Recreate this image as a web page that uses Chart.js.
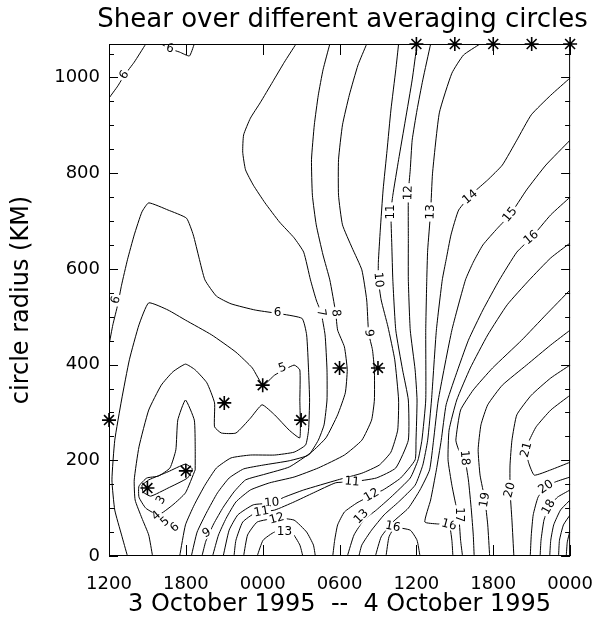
<!DOCTYPE html>
<html><head><meta charset="utf-8">
<script src="https://cdn.jsdelivr.net/npm/chart.js@4.4.1/dist/chart.umd.min.js"></script>
<style>html,body{margin:0;padding:0;background:#fff}</style>
</head><body>
<div style="width:611px;height:617px;position:relative"><canvas id="c"></canvas></div>
<script>
// text
const chartTitle = 'Shear over different averaging circles';
// axes
const xTickValues = [0, 6, 12, 18, 24, 30, 36];
const xTickLabels = ['1200', '1800', '0000', '0600', '1200', '1800', '0000'];
const yTickValues = [0, 200, 400, 600, 800, 1000];
const yMinorValues = [50,100,150,250,300,350,450,500,550,650,700,750,850,900,950,1050];
// stars: hours after 1200 UTC 3 Oct, radius in km
const starHours  = [0, 3, 6, 9, 12, 15, 18, 21, 24, 27, 30, 33, 36];
const starRadius = [284, 142, 178, 320, 357, 284, 393, 393, 1070, 1070, 1070, 1070, 1070];

// contour lines, points as [hour, km]
const c6TopLeft = [[2.87,1070],[1.97,1032],[1.21,1005],[0.68,982],[0,957]];
const c6Vee = [[4.08,1070],[4.76,1060],[5.52,1053],[6.28,1045],[6.66,1070]];
const c6Lobe = [[0,441],[0.30,483],[0.68,525],[0.98,566],[1.44,619],[1.97,671],[2.57,719],[3.10,738],[4.61,723],[6.05,706],[6.58,671],[7.03,623],[7.49,577],[8.39,543],[9.53,527],[11.42,514],[15.05,497],[15.43,462],[15.58,389],[15.66,326],[15.58,263],[15.35,232],[14.45,217],[12.93,211],[11.04,211],[9.53,205],[8.39,184],[7.49,148],[6.66,107],[5.97,65],[5.52,0]];
const c5 = [[1.44,0],[0.98,44],[0.45,96],[0.23,159],[0.45,242],[0.98,326],[1.59,410],[2.34,483],[3.10,529],[4.61,514],[5.97,493],[8.02,462],[9.91,426],[11.19,393],[12.03,357],[12.93,378],[14.45,399],[14.90,389],[14.90,326],[14.90,247],[14.07,263],[12.93,295],[11.95,316],[11.04,288],[9.91,257],[8.77,257],[8.24,270],[8.24,320],[7.64,362],[6.73,389],[5.97,401],[4.99,385],[4.08,357],[3.10,305],[2.34,228],[1.97,159],[2.04,117],[2.57,79],[3.10,44],[3.40,0]];
const c3 = [[6.73,180],[6.73,228],[6.66,284],[5.97,326],[5.37,284],[5.22,222],[4.76,184],[3.86,167],[2.95,163],[2.34,146],[2.34,123],[2.87,100],[3.86,86],[4.99,107],[5.97,132],[6.73,180]];
const c2 = [[2.57,148],[3.10,159],[4.61,176],[5.97,192],[6.50,182],[6.13,163],[4.61,142],[3.25,125],[2.65,134],[2.57,148]];
const c7 = [[14.60,1070],[13.69,1032],[12.78,991],[11.80,947],[11.04,915],[10.51,880],[10.44,844],[10.66,807],[11.27,775],[12.18,738],[13.31,698],[14.45,665],[15.20,635],[15.73,577],[16.18,535],[16.56,508],[16.87,462],[17.02,389],[17.02,326],[16.79,274],[16.34,242],[15.58,211],[14.07,199],[12.03,190],[10.51,182],[9.38,163],[8.47,132],[7.64,92],[6.88,50],[6.43,0]];
const c8 = [[17.24,1070],[16.71,1016],[16.34,963],[16.03,901],[15.81,828],[15.88,754],[16.18,692],[16.71,629],[17.24,577],[17.70,508],[17.85,472],[18.38,437],[18.60,389],[18.45,341],[17.85,295],[16.94,247],[15.81,217],[14.07,186],[12.18,171],[10.66,159],[9.76,134],[8.92,102],[8.17,67],[7.56,31],[7.26,0]];
const c9 = [[20.12,1070],[19.44,1026],[18.76,963],[18.23,901],[17.92,828],[17.92,754],[18.23,692],[18.98,644],[19.74,598],[20.12,535],[20.27,466],[20.57,431],[20.72,389],[20.72,326],[20.50,284],[19.74,242],[18.38,211],[16.34,184],[14.45,165],[12.55,153],[11.04,138],[9.91,113],[9.15,79],[8.55,44],[8.09,0]];
const c10 = [[22.61,1070],[22.39,1016],[22.01,932],[21.71,848],[21.40,765],[21.18,681],[21.03,614],[21.03,577],[21.25,535],[21.78,479],[22.31,410],[22.61,326],[22.54,263],[22.01,217],[21.10,190],[19.74,173],[17.85,159],[15.20,138],[13.69,123],[12.71,111],[11.27,107],[10.06,86],[9.38,54],[8.92,0]];
const c11 = [[24.05,1070],[23.67,995],[23.14,911],[22.61,828],[22.16,754],[22.01,719],[22.08,650],[22.16,577],[22.39,472],[22.92,389],[23.37,326],[23.37,242],[22.39,184],[20.87,163],[18.98,155],[17.70,153],[15.96,132],[14.45,113],[12.93,96],[11.42,90],[10.44,71],[9.91,33],[9.76,0]];
const c12 = [[25.11,1070],[24.50,995],[24.05,932],[23.67,869],[23.52,807],[23.37,759],[23.37,660],[23.37,577],[23.52,472],[23.90,389],[24.05,326],[23.97,242],[23.90,201],[22.77,163],[21.40,138],[20.50,127],[19.36,111],[18.38,92],[17.85,65],[17.62,33],[17.47,0]];
const c13 = [[28.97,1070],[27.68,1047],[26.77,1009],[25.79,926],[25.26,800],[25.11,719],[24.88,639],[24.81,577],[24.73,472],[24.73,326],[24.43,242],[24.13,201],[23.52,163],[22.01,123],[20.87,96],[19.89,75],[19.13,44],[18.61,0]];
const c14 = [[36,999],[34.49,963],[32.97,922],[31.84,869],[30.71,817],[29.57,786],[28.44,759],[27.30,723],[26.70,671],[26.32,619],[26.02,577],[25.56,472],[25.18,326],[24.88,242],[24.50,190],[23.90,148],[22.61,113],[21.48,86],[20.50,54],[19.74,23],[19.51,0]];
const c15 = [[36,869],[34.11,817],[32.60,765],[31.31,713],[30.33,685],[29.19,650],[28.44,614],[27.83,577],[26.77,472],[25.71,326],[25.34,242],[25.03,180],[24.28,138],[23.37,100],[22.16,71],[21.25,40],[20.80,0]];
const c16 = [[36,750],[34.49,713],[32.97,665],[31.84,635],[30.48,577],[29.19,514],[28.06,451],[27.08,378],[26.32,316],[25.94,242],[25.56,180],[25.11,117],[24.66,71],[25.64,67],[26.55,65],[26.77,33],[26.85,0]];
const c16Cap = [[21.63,0],[21.86,40],[22.31,59],[23.52,54],[24.05,33],[24.28,0]];
const c17 = [[36,654],[34.49,623],[32.82,577],[31.09,525],[29.57,462],[28.21,393],[27.15,326],[26.55,263],[26.47,201],[26.77,148],[27.08,107],[27.30,86],[27.45,33],[27.60,0]];
const c18 = [[36,556],[34.11,504],[32.22,451],[29.95,393],[28.44,347],[27.45,305],[27.08,242],[27.30,222],[27.76,205],[28.06,159],[28.29,96],[28.44,44],[28.51,0]];
const c19 = [[36,472],[34.49,441],[32.60,399],[30.71,357],[29.57,316],[29.04,274],[28.82,222],[28.97,169],[29.35,117],[29.57,65],[29.72,0]];
const c20 = [[36,399],[34.49,372],[32.97,336],[31.84,295],[31.46,242],[31.31,190],[31.31,138],[31.46,75],[31.61,0]];
const c21 = [[36,336],[34.49,305],[33.35,270],[32.82,242],[32.60,222],[32.75,196],[33.20,169],[34.49,180],[36,196]];
const c20Corner = [[36,165],[34.87,155],[34.11,144],[33.50,123],[33.12,86],[32.97,44],[32.89,0]];
const c19Corner = [[36,138],[35.02,123],[34.34,102],[33.96,75],[33.73,33],[33.66,0]];
const c18Corner = [[36,117],[35.25,96],[34.72,65],[34.49,33],[34.41,0]];
const c17Corner = [[36,86],[35.48,65],[35.17,33],[35.10,0]];
const c16Corner = [[36,54],[35.78,29],[35.70,0]];
const c12Cap = [[10.51,0],[10.82,44],[11.57,71],[13.08,79],[14.45,75],[15.43,50],[15.96,23],[16.11,0]];
const c13Cap = [[11.57,0],[12.03,33],[12.93,50],[14.29,48],[14.90,23],[15.13,0]];

const contourLines = [c6TopLeft, c6Vee, c6Lobe, c5, c3, c2, c7, c8, c9, c10, c11, c12, c13, c14, c15, c16, c16Cap,
  c17, c18, c19, c20, c21, c20Corner, c19Corner, c18Corner, c17Corner, c16Corner, c12Cap, c13Cap];

// contour labels
const labelText   = ['6','6','6','6','5','7','8','9','10','11','12','13','14','15','16','18','19','20','21','20','18','11','12','13','10','16','16','17','3','4','5','6','9','11','12','13'];
const labelHour   = [1.21,4.76,0.55,13.16,13.54,16.56,17.70,20.27,21.03,22.01,23.37,25.11,28.20,31.31,32.97,27.76,29.35,31.31,32.60,34.11,34.34,18.98,20.50,19.70,12.71,22.16,26.55,27.30,4.08,3.70,4.39,5.14,7.64,11.90,13.10,13.70];
const labelRadius = [1005,1060,535,508,393,508,508,466,577,719,759,719,750,713,665,205,117,138,222,144,102,155,127,82,111,61,65,86,117,84,71,59,48,92,78,50];
const labelAngle  = [-55,15,-75,0,-20,80,85,85,85,-90,-88,-88,-40,-50,-40,85,-80,-75,-75,-35,-60,5,-30,-45,-5,10,15,90,-60,-40,-40,-40,-30,-10,-15,0];

const datasets = contourLines.map(pts => ({
  type: 'scatter', showLine: true, data: pts.map(p => ({x: p[0], y: p[1]})),
  borderColor: '#000', borderWidth: 1, pointRadius: 0, tension: 0.15, fill: false, clip: 0
}));
datasets.push({
  type: 'scatter', data: starHours.map((h, i) => ({x: h, y: starRadius[i]})),
  pointStyle: 'star', pointRadius: 7, borderColor: '#000', borderWidth: 1.6, showLine: false, clip: false
});

const frame = {
  id: 'frame',
  afterDatasetsDraw(chart) {
    const {ctx, chartArea: a, scales: {x, y}} = chart;
    ctx.save();
    // title, centred over the plot area
    ctx.fillStyle = '#000';
    ctx.font = '26px "DejaVu Sans"';
    ctx.textAlign = 'center'; ctx.textBaseline = 'middle';
    ctx.fillText(chartTitle, (a.left + a.right) / 2 + 3, 20);
    // contour labels
    ctx.font = '12px "DejaVu Sans"';
    labelText.forEach((t, i) => {
      const px = x.getPixelForValue(labelHour[i]), py = y.getPixelForValue(labelRadius[i]);
      ctx.save(); ctx.translate(px, py); ctx.rotate(labelAngle[i] * Math.PI / 180);
      const w = ctx.measureText(t).width;
      ctx.fillStyle = '#fff'; ctx.fillRect(-w / 2 - 2, -5, w + 4, 10);
      ctx.fillStyle = '#000'; ctx.fillText(t, 0, 0);
      ctx.restore();
    });
    ctx.strokeStyle = '#000'; ctx.lineWidth = 1;
    ctx.strokeRect(a.left + 0.5, a.top + 0.5, a.right - a.left - 1, a.bottom - a.top - 1);
    ctx.beginPath();
    xTickValues.forEach(v => {
      const px = Math.round(x.getPixelForValue(v)) + 0.5;
      ctx.moveTo(px, a.bottom); ctx.lineTo(px, a.bottom - 11);
      ctx.moveTo(px, a.top); ctx.lineTo(px, a.top + 11);
    });
    yTickValues.forEach(v => {
      const py = Math.round(y.getPixelForValue(v)) + 0.5;
      ctx.moveTo(a.left, py); ctx.lineTo(a.left + 9, py);
      ctx.moveTo(a.right, py); ctx.lineTo(a.right - 9, py);
    });
    yMinorValues.forEach(v => {
      const py = Math.round(y.getPixelForValue(v)) + 0.5;
      ctx.moveTo(a.left, py); ctx.lineTo(a.left + 5, py);
      ctx.moveTo(a.right, py); ctx.lineTo(a.right - 5, py);
    });
    ctx.stroke();
    ctx.restore();
  }
};

new Chart(document.getElementById('c'), {
  data: { datasets },
  options: {
    responsive: true, maintainAspectRatio: false, animation: false,
    layout: { padding: { left: 0, right: 26, top: 44, bottom: 0 } },
    plugins: { legend: { display: false }, tooltip: { enabled: false }, title: { display: false } },
    scales: {
      x: { type: 'linear', min: 0, max: 36,
           afterBuildTicks: s => { s.ticks = xTickValues.map(v => ({value: v})); },
           afterFit: s => { s.height = 61; },
           grid: { display: false, drawTicks: false }, border: { display: false },
           ticks: { color: '#000', padding: 18, maxRotation: 0, font: { family: '"DejaVu Sans"', size: 18 },
                    callback: (v) => xTickLabels[xTickValues.indexOf(v)] },
           title: { display: true, text: '3 October 1995  --  4 October 1995', color: '#000',
                    font: { family: '"DejaVu Sans"', size: 24, lineHeight: 1 }, padding: { top: 0, bottom: 0 } } },
      y: { type: 'linear', min: 0, max: 1070,
           afterBuildTicks: s => { s.ticks = yTickValues.map(v => ({value: v})); },
           afterFit: s => { s.width = 109; },
           grid: { display: false, drawTicks: false }, border: { display: false },
           ticks: { color: '#000', padding: 9, font: { family: '"DejaVu Sans"', size: 18 },
                    callback: (v) => String(v) },
           title: { display: true, text: 'circle radius (KM)', color: '#000',
                    font: { family: '"DejaVu Sans"', size: 24 }, padding: { top: 7, bottom: 0 } } }
    }
  },
  plugins: [frame]
});
</script>
</body></html>
